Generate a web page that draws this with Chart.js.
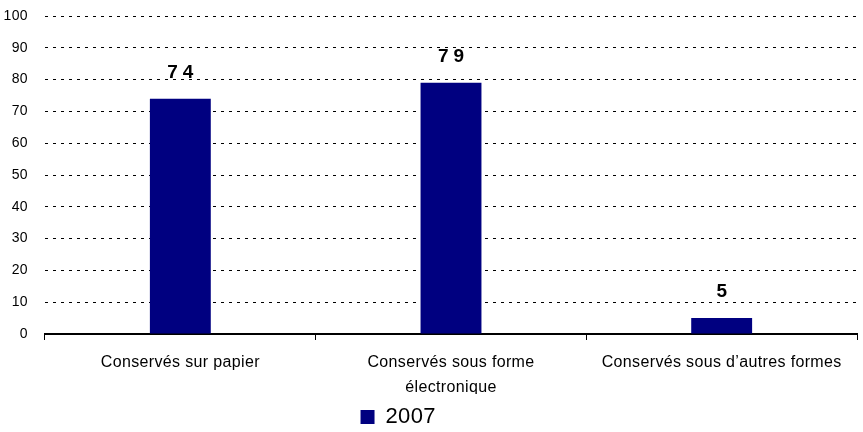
<!DOCTYPE html>
<html>
<head>
<meta charset="utf-8">
<script src="https://cdn.jsdelivr.net/npm/chart.js@4/dist/chart.umd.min.js"></script>
<style>
html,body{margin:0;padding:0;background:#fff;}
#wrap{width:863px;height:432px;position:relative;}
</style>
</head>
<body>
<div id="wrap"><canvas id="c" width="863" height="432"></canvas></div>
<script>
const categories = [["Conservés sur papier"], ["Conservés sous forme", "électronique"], ["Conservés sous d’autres formes"]];
const seriesName = "2007";
const values = [74, 79, 5];
const yTicks = [0, 10, 20, 30, 40, 50, 60, 70, 80, 90, 100];

const FONT = "'Liberation Sans', Arial, sans-serif";

const spacingPlugin = {
  id: 'spacing',
  beforeDraw(chart) { chart.ctx.letterSpacing = '0.35px'; },
  afterLayout(chart) {
    if (chart.legend) {
      chart.legend.left -= 31; chart.legend.right -= 31;
      chart.legend.top += 6; chart.legend.bottom += 6;
    }
  },
  afterDatasetsDraw(chart) {
    const ctx = chart.ctx;
    const meta = chart.getDatasetMeta(0);
    ctx.save();
    ctx.letterSpacing = '5px';
    ctx.font = "bold 19px " + FONT;
    ctx.fillStyle = '#000';
    ctx.textAlign = 'center';
    ctx.textBaseline = 'alphabetic';
    meta.data.forEach((bar, i) => {
      ctx.fillText(String(values[i]), bar.x + 2.5, bar.y - 21);
    });
    ctx.restore();
  }
};

new Chart(document.getElementById('c'), {
  type: 'bar',
  data: {
    labels: categories,
    datasets: [{
      label: seriesName,
      data: values,
      backgroundColor: '#000080',
      borderWidth: 0,
      barPercentage: 0.225,
      categoryPercentage: 1
    }]
  },
  plugins: [spacingPlugin],
  options: {
    responsive: false,
    animation: false,
    layout: { padding: { top: 16, right: 6, left: 0, bottom: 0 } },
    plugins: {
      tooltip: { enabled: false },
      legend: {
        position: 'bottom',
        labels: {
          font: { family: FONT, size: 22 },
          color: '#000',
          boxWidth: 14,
          boxHeight: 14,
          padding: 6
        }
      }
    },
    scales: {
      x: {
        afterFit(axis) {
          axis.height = 60;
          axis.paddingTop = 0; axis.paddingBottom = 0;
        },
        grid: {
          display: true,
          offset: true,
          drawOnChartArea: false,
          drawTicks: true,
          tickLength: 6,
          color: '#000',
          lineWidth: 1
        },
        border: { display: true, color: '#000', width: 2 },
        ticks: {
          font: { family: FONT, size: 16, lineHeight: 1.56 },
          color: '#000',
          padding: 10,
          maxRotation: 0,
          autoSkip: false
        }
      },
      y: {
        min: 0,
        max: 100,
        afterFit(axis) {
          axis.width = 45;
          axis.paddingTop = 0; axis.paddingBottom = 0;
        },
        afterBuildTicks(axis) { axis.ticks = yTicks.map(v => ({ value: v })); },
        grid: {
          display: true,
          drawTicks: false,
          color: (c) => (c.tick && c.tick.value === 0) ? 'rgba(0,0,0,0)' : '#000',
          lineWidth: 1
        },
        border: { display: false, dash: [3, 5] },
        ticks: {
          font: { family: FONT, size: 14 },
          color: '#000',
          padding: 17
        }
      }
    }
  }
});
</script>
</body>
</html>
